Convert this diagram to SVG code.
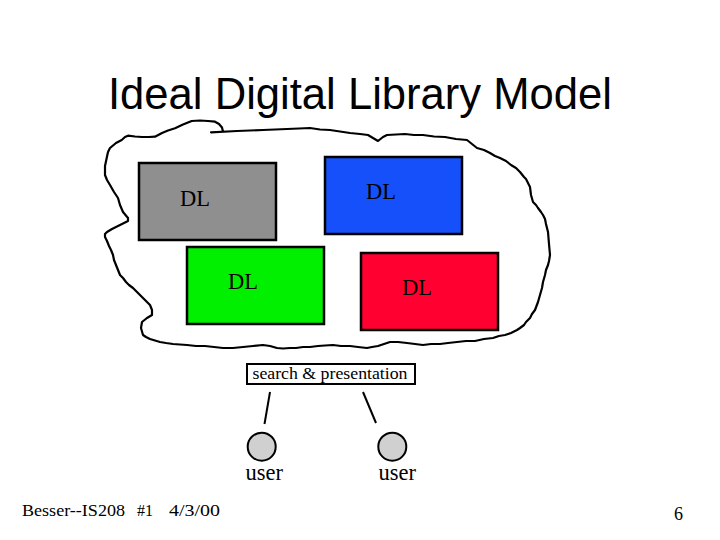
<svg xmlns="http://www.w3.org/2000/svg" width="720" height="540" viewBox="0 0 720 540">
<style>
.title{font-family:"Liberation Sans",Arial,sans-serif;font-size:43.5px;fill:#000}
.t{font-family:"Liberation Serif","Times New Roman",serif;fill:#000}
.dl{font-size:22.5px}
.box{stroke:#000;stroke-width:2.5}
.cloud{fill:none;stroke:#000;stroke-width:2.2;stroke-linejoin:round;stroke-linecap:round}
.conn{stroke:#000;stroke-width:2;fill:none}
.user{fill:#d0d0d0;stroke:#000;stroke-width:2}
</style>
<rect width="720" height="540" fill="#fff"/>
<text class="title" x="108" y="109" textLength="504" lengthAdjust="spacingAndGlyphs">Ideal Digital Library Model</text>
<g id="cloud">
<path class="cloud" d="M211,132.3 L237,131 L250,130.5 L263,130 L275,129.5 L287,129 L299,128.5 L310,128 L320,129.5 L330,130 L340,131.5 L350,133 L360,134 L368,135 L373,138 L378,141 L383,137 L387,135 L396,134.5 L405,134 L414,135 L423,135 L434,136.5 L445,137 L456,139 L467,140 L472,144 L477,148 L484,150 L490,153 L495,156 L500,158 L506,161 L511,165 L516,168 L520,172 L524,177 L526,179 L528,183 L530,187 L531,195 L533,202 L536,205 L538,208 L541,212 L543,215 L545,219 L546,224 L547,228 L548,232 L549,244 L550,255 L549,261 L548,265 L546,270 L545,275 L543,282 L542,288 L540,295 L538,302 L535,310 L532,314 L530,318 L526,322 L524,325 L520,328 L517,330 L511,333 L505,335 L499,336 L493,338 L484,339 L475,341 L466,341 L457,342 L448,343 L440,344 L431,344 L423,345 L415,344 L407,343 L398,342 L390,342 L384,344 L378,346 L372,347 L367,348 L358,347 L350,346 L341,346 L333,345 L325,345.5 L318,346 L310,347 L303,347 L296,348 L290,348 L283,348.5 L277,348 L270,346 L263,345 L253,346 L243,347 L233,348 L223,348 L214,347 L205,346 L196,346 L187,345 L180,344.5 L173,344 L166,343 L160,342 L155,340.5 L150,339 L146,337 L143,335 L141,328 L142,322 L147,318 L152,315 L152,310 L150,305 L146,301 L142,297 L137,292 L133,288 L129,285 L126,282 L123,278 L120,275 L118,270 L116,265 L114,260 L113,255 L111,250 L109,246 L107,241 L105,237 L105,234 L107,232 L112,229 L118,226 L124,223 L128,221 L128,218 L123,212 L120,205 L118,198 L114,192 L110,185 L107,180 L105,175 L105,166 L106.7,158 L108,152 L110,148 L116,143 L121.7,140 L125,137 L128,135.7 L135,136.5 L142,137 L149,137 L155,136.7 L162,133 L168,130.5 L175,128.3 L183,124.5 L191.7,121 L200,120.5 L208,121 L215,121.7 L219,124 L222,127.5 L223,131.7"/>
</g>
<g id="dl-gray">
<rect class="box" x="139" y="163" width="137" height="77" fill="#8f8f8f"/>
<text class="t dl" x="180" y="206" fill="#111">DL</text>
</g>
<g id="dl-blue">
<rect class="box" x="325" y="157" width="137" height="77" fill="#1650fa"/>
<text class="t dl" x="366" y="199" fill="#0e1a66">DL</text>
</g>
<g id="dl-green">
<rect class="box" x="187" y="247" width="137" height="77" fill="#00f000"/>
<text class="t dl" x="228" y="289" fill="#0a3c0a">DL</text>
</g>
<g id="dl-red">
<rect class="box" x="361" y="253" width="137" height="77" fill="#ff0030"/>
<text class="t dl" x="402" y="295" fill="#4a0010">DL</text>
</g>
<g id="search">
<rect x="247" y="364" width="168" height="20" fill="#fff" stroke="#000" stroke-width="2"/>
<text class="t" x="252.5" y="378.5" font-size="17" textLength="155" lengthAdjust="spacingAndGlyphs">search &amp; presentation</text>
</g>
<g id="connectors">
<line class="conn" x1="270" y1="392" x2="264.5" y2="424"/>
<line class="conn" x1="363" y1="392" x2="376" y2="423"/>
</g>
<g id="user1">
<circle class="user" cx="261.7" cy="446.7" r="14"/>
<text class="t" x="245.5" y="480" font-size="22.5">user</text>
</g>
<g id="user2">
<circle class="user" cx="392.3" cy="446.7" r="14"/>
<text class="t" x="378.5" y="480" font-size="22.5">user</text>
</g>
<g id="footer">
<text class="t" x="22" y="516" font-size="16" textLength="103" lengthAdjust="spacingAndGlyphs">Besser--IS208</text>
<text class="t" x="137" y="516" font-size="16" textLength="16" lengthAdjust="spacingAndGlyphs">#1</text>
<text class="t" x="169" y="516" font-size="16" textLength="51" lengthAdjust="spacingAndGlyphs">4/3/00</text>
<text class="t" x="674" y="520" font-size="18">6</text>
</g>
</svg>
